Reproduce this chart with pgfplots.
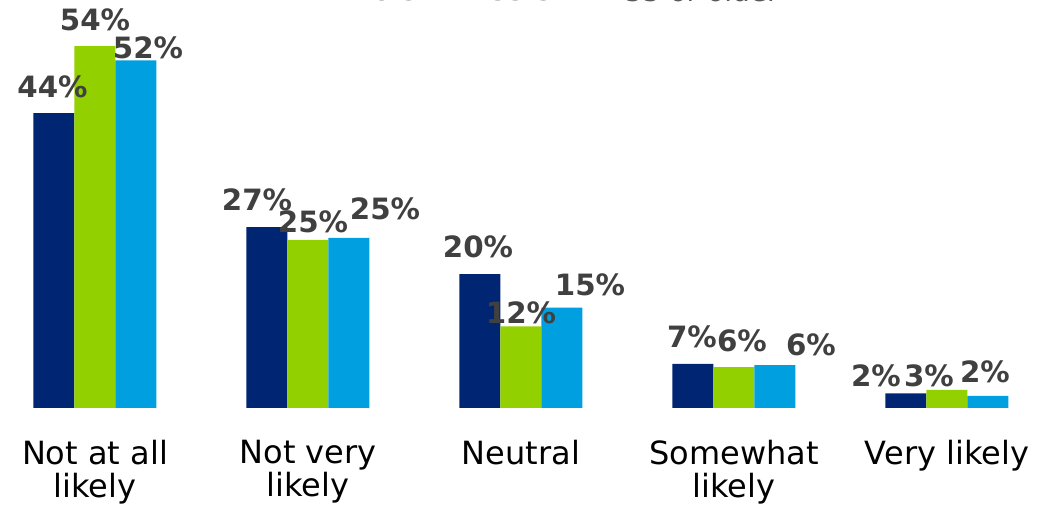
\documentclass[border=0pt]{standalone}
\usepackage{pgfplots}
\pgfplotsset{compat=1.18}
\usepackage{pgfplotstable}
\usepackage{fontspec}
\setmainfont{DejaVu Sans}
\definecolor{cnavy}{HTML}{002673}
\definecolor{cgreen}{HTML}{92D000}
\definecolor{cblue}{HTML}{00A0E0}
\definecolor{lblgray}{HTML}{404040}
\definecolor{leggray}{HTML}{595959}
% x, values (a=18-34, b=35-54, c=55 or older), labels, label offsets (px)
\pgfplotstableread{
x a b c la lb lc dxa dya dxb dyb dxc dyc
0 44 54 51.9 44 54 52 -1.5 26 0 26 12 12
1 27 25.1 25.4 27 25 25 -10 27 5 18 36 29
2 20 12.2 15.0 20 12 15 -2 27 0 13 28 23
3 6.6 6.1 6.4 7 6 6 -1 27 8 26 36 20
4 2.2 2.7 1.8 2 3 2 -30 17 -18 14 -3 24
}\data
\pgfplotsset{lbl/.style={draw=none, mark=none, forget plot,
  point meta=explicit symbolic,
  nodes near coords={\pgfplotspointmeta\%},
  nodes near coords style={anchor=center,
     font=\bfseries\fontsize{22}{26}\selectfont, text=lblgray}}}
\begin{document}
\begin{tikzpicture}
\begin{axis}[
  name=ax,
  scale only axis,
  width=792pt, height=306pt,
  xmin=-0.446, xmax=4.512,
  ymin=0, ymax=60.9,
  bar width=0.1925,
  axis line style={draw=none},
  ytick=\empty,
  xtick={0,1,2,3,4},
  xticklabels={{Not at all\\likely},{Not very\\likely},{Neutral},{Somewhat\\likely},{Very likely}},
  major tick length=0pt,
  xticklabel style={align=center, inner sep=0pt, yshift=-24pt,
     font=\fontsize{24}{25}\selectfont, text=black},
  clip=false,
  legend columns=3,
  legend style={draw=none, fill=none, at={(axis description cs:0.5265,1)}, anchor=south,
     yshift=-5.5pt, font=\fontsize{21}{24}\selectfont\color{leggray},
     nodes={inner sep=1pt},
     /tikz/every odd column/.append style={column sep=5pt},
     /tikz/every even column/.append style={column sep=22pt}},
  legend image code/.code={\fill[#1] (0pt,-5.6pt) rectangle (11.25pt,5.6pt);},
]
\addplot[ybar, bar shift=-0.1925, fill=cnavy, draw=none, forget plot]
  table[x=x, y=a]{\data};
\addplot[ybar, bar shift=0, fill=cgreen, draw=none, forget plot]
  table[x=x, y=b]{\data};
\addplot[ybar, bar shift=0.1925, fill=cblue, draw=none, forget plot]
  table[x=x, y=c]{\data};
\addplot[lbl] table[x expr=\thisrow{x}-0.1925+\thisrow{dxa}/213, y expr=\thisrow{a}+\thisrow{dya}/6.7, meta=la]{\data};
\addplot[lbl] table[x expr=\thisrow{x}+\thisrow{dxb}/213, y expr=\thisrow{b}+\thisrow{dyb}/6.7, meta=lb]{\data};
\addplot[lbl] table[x expr=\thisrow{x}+0.1925+\thisrow{dxc}/213, y expr=\thisrow{c}+\thisrow{dyc}/6.7, meta=lc]{\data};
\addlegendimage{fill=cnavy, draw=none}
\addlegendentry{18-34}
\addlegendimage{fill=cgreen, draw=none}
\addlegendentry{35-54}
\addlegendimage{fill=cblue, draw=none}
\addlegendentry{55 or older}
\end{axis}
\pgfresetboundingbox
\path[use as bounding box] (ax.south west) ++(0,-75pt) rectangle (ax.north east);
\end{tikzpicture}
\end{document}
